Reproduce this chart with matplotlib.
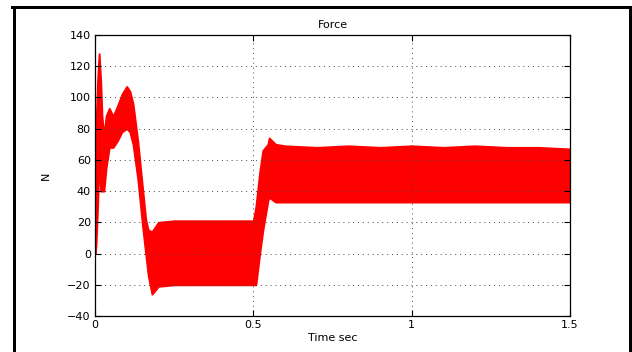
"""Force vs time - band of a rippled signal, MATLAB style figure"""

import numpy as np
import matplotlib
import matplotlib.pyplot as plt
from matplotlib.lines import Line2D

matplotlib.use('Agg')
matplotlib.rcParams.update({'font.size': 8, 'font.family': ['DejaVu Sans']})

# envelope of the rippled force signal
time = [0.000, 0.003, 0.008, 0.013, 0.018, 0.022, 0.028, 0.035, 0.045, 0.057,
        0.070, 0.085, 0.100, 0.110, 0.120, 0.135, 0.150, 0.160, 0.168, 0.180,
        0.200, 0.250, 0.300, 0.350, 0.400, 0.450, 0.500, 0.508, 0.520, 0.530,
        0.546, 0.550, 0.570, 0.600, 0.700, 0.800, 0.900, 1.000, 1.100, 1.200,
        1.300, 1.400, 1.500]
upper = [5, 80, 110, 128, 110, 88, 75, 88, 93, 88,
         94, 102, 107, 104, 96, 72, 42, 22, 15, 14,
         20, 21, 21, 21, 21, 21, 21, 30, 52, 66,
         70, 74, 70, 69, 68, 69, 68, 69, 68, 69,
         68, 68, 67]
lower = [0, 5, 30, 60, 40, 40, 40, 55, 68, 68,
         72, 78, 80, 78, 70, 48, 18, 0, -14, -26,
         -21, -20, -20, -20, -20, -20, -20, -20, 0, 15,
         34, 36, 33, 33, 33, 33, 33, 33, 33, 33,
         33, 33, 33]

y_ticks = [-40, -20, 0, 20, 40, 60, 80, 100, 120, 140]
x_ticks = [0, 0.5, 1, 1.5]
x_tick_labels = ['0', '0.5', '1', '1.5']

fig = plt.figure(figsize=(6.32, 3.52), dpi=100)
ax = fig.add_axes((0.1503, 0.1023, 0.7516, 0.7983))

ax.fill_between(time, lower, upper, color='#ff0000', linewidth=1.4, edgecolor='#ff0000')

ax.set_xlim(0, 1.5)
ax.set_ylim(-40, 140)
ax.set_xticks(x_ticks)
ax.set_xticklabels(x_tick_labels)
ax.set_yticks(y_ticks)
ax.tick_params(direction='in', length=4, width=0.8, top=True, right=True, pad=3)
ax.grid(True, linestyle=(0, (1, 4)), color='#444444', linewidth=0.7)
for spine in ax.spines.values():
    spine.set_linewidth(0.9)

ax.set_title('Force', fontsize=8, pad=5)
ax.set_xlabel('Time sec', labelpad=2)
ax.set_ylabel('N', labelpad=12)

# thick black frame around the picture (no bottom edge)
W, H = 632.0, 352.0
lw = 3 * 72 / 100
fig.add_artist(Line2D([13.5 / W, 13.5 / W], [0, 1 - 6.5 / H], color='black', lw=lw,
                      transform=fig.transFigure))
fig.add_artist(Line2D([629.5 / W, 629.5 / W], [0, 1 - 6.5 / H], color='black', lw=lw,
                      transform=fig.transFigure))
fig.add_artist(Line2D([12 / W, 631 / W], [1 - 6.5 / H, 1 - 6.5 / H], color='black', lw=lw,
                      transform=fig.transFigure))

fig.savefig('out.png', dpi=100)
plt.close(fig)
